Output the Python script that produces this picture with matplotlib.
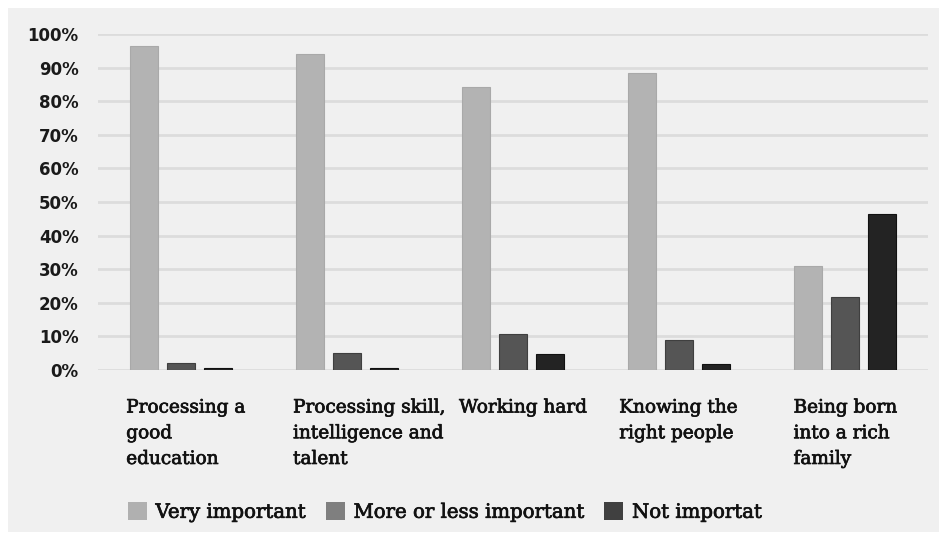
import matplotlib
matplotlib.use("Agg")
import matplotlib.pyplot as plt
import matplotlib.patheffects as pe
import numpy as np
from matplotlib.patches import Patch, Rectangle

categories = ["Processing a\ngood\neducation",
              "Processing skill,\nintelligence and\ntalent",
              "Working hard",
              "Knowing the\nright people",
              "Being born\ninto a rich\nfamily"]
series_names = ["Very important", "More or less important", "Not importat"]
very_important = [96.5, 94.0, 84.3, 88.5, 31.0]
more_or_less = [2.0, 5.0, 10.6, 8.8, 21.6]
not_important = [0.7, 0.7, 4.7, 1.8, 46.4]
yticks = [0, 10, 20, 30, 40, 50, 60, 70, 80, 90, 100]
ytick_labels = ["0%", "10%", "20%", "30%", "40%", "50%", "60%", "70%", "80%", "90%", "100%"]

bar_colors = ["#b3b3b3", "#555555", "#232323"]
edge_colors = ["#a9a9a9", "#3f3f3f", "#111111"]
legend_colors = ["#b0b0b0", "#7f7f7f", "#404040"]

fig = plt.figure(figsize=(9.49, 5.40), dpi=100)
fig.patch.set_facecolor("white")
fig.add_artist(Rectangle((8/949, 1-532/540), (939-8)/949, (532-8)/540,
                         transform=fig.transFigure, facecolor="#f0f0f0",
                         edgecolor="none", zorder=0))

ax = fig.add_axes([98/949, 1-370/540, (928-98)/949, (370-34)/540])
ax.set_facecolor("none")

x = np.arange(len(categories))
w = 0.17
step = 0.223
for i, (vals, fc, ec) in enumerate(zip([very_important, more_or_less, not_important],
                                        bar_colors, edge_colors)):
    ax.bar(x + (i - 1) * step, vals, width=w, color=fc, edgecolor=ec,
           linewidth=0.8, zorder=3)

ax.set_xlim(-0.5, len(categories) - 0.5)
ax.set_ylim(0, 100)
ax.set_yticks(yticks)
ax.set_yticklabels(ytick_labels, fontsize=12, fontweight="bold",
                   family=["DejaVu Sans"], color="#1a1a1a")
ax.tick_params(axis="y", length=0, pad=14)
ax.tick_params(axis="x", length=0, labelbottom=False)
ax.grid(axis="y", color="#dcdcdc", linewidth=2, zorder=1)
for s in ax.spines.values():
    s.set_visible(False)

stroke = [pe.withStroke(linewidth=0.5, foreground="#111111")]
offsets = [-0.33, -0.325, -0.325, -0.36, -0.31]
for xi, lab, off in zip(x, categories, offsets):
    ax.text(xi + off, -0.085, lab, transform=ax.get_xaxis_transform(),
            ha="left", va="top", fontsize=13.3, family=["DejaVu Serif"],
            color="#111111", linespacing=1.55, path_effects=stroke)

handles = [Patch(facecolor=c, edgecolor="none") for c in legend_colors]
leg = fig.legend(handles, series_names, loc="center left",
                 bbox_to_anchor=(118/949, 1-512/540), ncol=3, frameon=False,
                 prop={"family": "DejaVu Serif", "size": 14.2},
                 handlelength=0.95, handleheight=1.0, handletextpad=0.45,
                 columnspacing=1.0, borderpad=0.0)
for t in leg.get_texts():
    t.set_color("#111111")
    t.set_path_effects(stroke)

fig.savefig("out.png", dpi=100, facecolor=fig.get_facecolor())
